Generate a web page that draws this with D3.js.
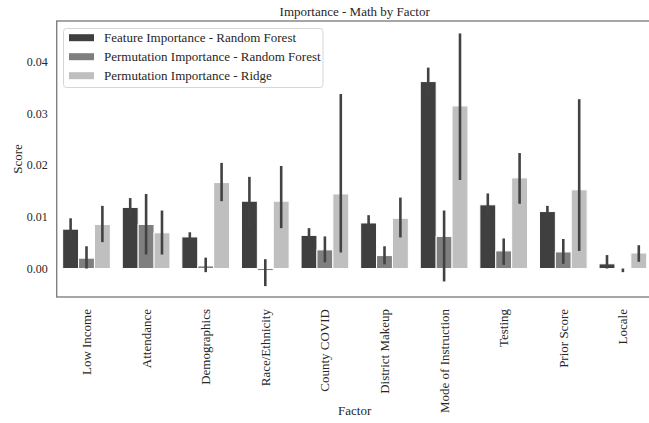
<!DOCTYPE html>
<html>
<head>
<meta charset="utf-8">
<script src="https://cdn.jsdelivr.net/npm/d3@7"></script>
<style>
  html, body { margin: 0; padding: 0; background: #fff; }
  svg { display: block; font-family: "Liberation Serif", "Times New Roman", serif; }
</style>
</head>
<body>
<svg id="chart" width="649" height="423"></svg>
<script>
// ---- data ----
const categories = ["Low Income", "Attendance", "Demographics", "Race/Ethnicity", "County COVID",
  "District Makeup", "Mode of Instruction", "Testing", "Prior Score", "Locale"];
const seriesNames = ["Feature Importance - Random Forest", "Permutation Importance - Random Forest", "Permutation Importance - Ridge"];
const featureRF =      [0.0076, 0.0118, 0.0061, 0.0130, 0.0064, 0.0088, 0.0361, 0.0123, 0.0110, 0.0009];
const featureRFLow =   [0.0055, 0.0100, 0.0053, 0.0080, 0.0050, 0.0072, 0.0330, 0.0101, 0.0099, 0.0000];
const featureRFHigh =  [0.0097, 0.0136, 0.0070, 0.0177, 0.0078, 0.0103, 0.0388, 0.0145, 0.0121, 0.0026];
const permRF =         [0.0020, 0.0085, 0.0005, -0.0004, 0.0036, 0.0025, 0.0062, 0.0034, 0.0032, -0.0002];
const permRFLow =      [0.0000, 0.0027, -0.0007, -0.0034, 0.0012, 0.0008, -0.0025, 0.0007, 0.0009, -0.0007];
const permRFHigh =     [0.0043, 0.0144, 0.0021, 0.0018, 0.0062, 0.0043, 0.0112, 0.0058, 0.0057, 0.0000];
const permRidge =      [0.0085, 0.0069, 0.0166, 0.0130, 0.0144, 0.0097, 0.0314, 0.0175, 0.0152, 0.0030];
const permRidgeLow =   [0.0051, 0.0027, 0.0130, 0.0078, 0.0031, 0.0060, 0.0171, 0.0125, 0.0034, 0.0013];
const permRidgeHigh =  [0.0121, 0.0112, 0.0204, 0.0198, 0.0337, 0.0137, 0.0454, 0.0223, 0.0327, 0.0045];
const yTicks = [0.00, 0.01, 0.02, 0.03, 0.04];
const colors = ["#3f3f3f", "#7f7f7f", "#bfbfbf"];

const seriesValues = [featureRF, permRF, permRidge];
const seriesLow = [featureRFLow, permRFLow, permRidgeLow];
const seriesHigh = [featureRFHigh, permRFHigh, permRidgeHigh];

// ---- layout ----
const svg = d3.select("#chart");
const mLeft = 56.7, mRight = 652.7, mTop = 21, mBottom = 297;

const x = d3.scaleBand().domain(categories).range([mLeft, mRight]).paddingInner(0.2).paddingOuter(0.1);
const xs = d3.scaleBand().domain(d3.range(seriesNames.length)).range([0, x.bandwidth()]);
const y = d3.scaleLinear().domain([-0.0055, 0.0478]).range([mBottom, mTop]);

// bars
const rows = [];
categories.forEach((c, i) => {
  seriesNames.forEach((s, j) => {
    rows.push({cat: c, s: j, v: seriesValues[j][i], lo: seriesLow[j][i], hi: seriesHigh[j][i]});
  });
});

svg.append("g").selectAll("rect").data(rows).join("rect")
  .attr("x", d => x(d.cat) + xs(d.s))
  .attr("width", xs.bandwidth())
  .attr("y", d => Math.min(y(d.v), y(0)))
  .attr("height", d => Math.abs(y(d.v) - y(0)))
  .attr("fill", d => colors[d.s])
  .attr("stroke", "#fff")
  .attr("stroke-width", 1);

// error bars
svg.append("g").selectAll("line").data(rows).join("line")
  .attr("x1", d => x(d.cat) + xs(d.s) + xs.bandwidth() / 2)
  .attr("x2", d => x(d.cat) + xs(d.s) + xs.bandwidth() / 2)
  .attr("y1", d => y(d.lo))
  .attr("y2", d => y(d.hi))
  .attr("stroke", "#424242")
  .attr("stroke-width", 2.6);

// spines
svg.append("rect")
  .attr("x", mLeft).attr("y", mTop)
  .attr("width", mRight - mLeft).attr("height", mBottom - mTop)
  .attr("fill", "none").attr("stroke", "#808080").attr("stroke-width", 1.4);

// y axis (labels only)
const yAxis = d3.axisLeft(y).tickValues(yTicks).tickFormat(d3.format(".2f")).tickSize(0).tickPadding(9);
const gy = svg.append("g").attr("transform", `translate(${mLeft},0)`).call(yAxis);
gy.select(".domain").remove();
gy.selectAll("text").attr("font-size", 12).attr("fill", "#262626")
  .attr("font-family", '"Liberation Serif", "Times New Roman", serif');

// x axis (labels only, rotated)
const xAxis = d3.axisBottom(x).tickSize(0).tickPadding(0);
const gx = svg.append("g").attr("transform", `translate(0,${mBottom})`).call(xAxis);
gx.select(".domain").remove();
gx.selectAll("text")
  .attr("font-size", 13).attr("fill", "#262626")
  .attr("font-family", '"Liberation Serif", "Times New Roman", serif')
  .attr("text-anchor", "end")
  .attr("dy", "0.35em")
  .attr("transform", "translate(0,12) rotate(-90)")
  .attr("x", 0).attr("y", 0);

// title
svg.append("text")
  .attr("x", (mLeft + mRight) / 2).attr("y", 16)
  .attr("text-anchor", "middle").attr("font-size", 13).attr("fill", "#262626")
  .text("Importance - Math by Factor");

// axis labels
svg.append("text")
  .attr("x", (mLeft + mRight) / 2).attr("y", 415)
  .attr("text-anchor", "middle").attr("font-size", 13).attr("fill", "#262626")
  .text("Factor");
svg.append("text")
  .attr("transform", `translate(22,${(mTop + mBottom) / 2}) rotate(-90)`)
  .attr("text-anchor", "middle").attr("font-size", 13).attr("fill", "#262626")
  .text("Score");

// legend
const lg = svg.append("g");
lg.append("rect").attr("x", 63.5).attr("y", 28.5).attr("width", 259.5).attr("height", 59)
  .attr("rx", 3).attr("fill", "#fff").attr("stroke", "#d6d6d6").attr("stroke-width", 1);
seriesNames.forEach((s, j) => {
  const cy = 37.7 + j * 19;
  lg.append("rect").attr("x", 69).attr("y", cy - 3.5).attr("width", 25).attr("height", 7).attr("fill", colors[j]);
  lg.append("text").attr("x", 104).attr("y", cy).attr("dy", "0.35em")
    .attr("font-size", 13).attr("fill", "#262626").text(s);
});
</script>
</body>
</html>
